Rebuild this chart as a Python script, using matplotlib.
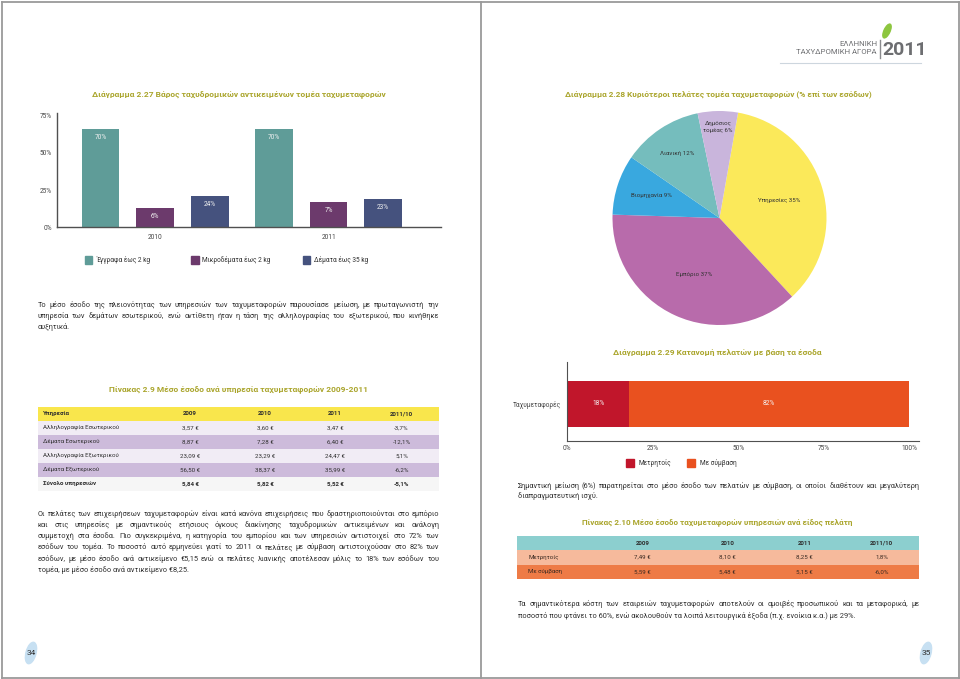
import numpy as np
import matplotlib
matplotlib.use('Agg')
import matplotlib.pyplot as plt
from matplotlib.patches import Rectangle, Ellipse

W, H = 960, 679
plt.rcParams['font.family'] = ['Liberation Sans Narrow', 'Roboto', 'DejaVu Sans']

# --- data ---
years = ['2010', '2011']
weight_cats = ['Έγγραφα έως 2 kg', 'Μικροδέματα έως 2 kg', 'Δέματα έως 35 kg']
weight_2010 = [66.3, 12.8, 21.2]   # bar heights as drawn in the source
weight_2011 = [66.3, 16.8, 19.0]
weight_lbl_2010 = ['70%', '6%', '24%']
weight_lbl_2011 = ['70%', '7%', '23%']

client_cats = ['Υπηρεσίες 35%', 'Εμπόριο 37%', 'Βιομηχανία 9%', 'Λιανική 12%', 'Δημόσιος\nτομέας 6%']
client_share = [35, 37, 9, 12, 6]

pay_cat = 'Ταχυμεταφορές'
pay_names = ['Μετρητοίς', 'Με σύμβαση']
pay_share = [18, 82]

t29_cols = ['Υπηρεσία', '2009', '2010', '2011', '2011/10']
t29_rows = ['Αλληλογραφία Εσωτερικού', 'Δέματα Εσωτερικού', 'Αλληλογραφία Εξωτερικού',
            'Δέματα Εξωτερικού', 'Σύνολο υπηρεσιών']
t29_2009 = ['3,57 €', '8,87 €', '23,09 €', '56,50 €', '5,84 €']
t29_2010 = ['3,60 €', '7,28 €', '23,29 €', '38,37 €', '5,82 €']
t29_2011 = ['3,47 €', '6,40 €', '24,47 €', '35,99 €', '5,52 €']
t29_chg = ['-3,7%', '-12,1%', '5,1%', '-6,2%', '-5,1%']

t210_cols = ['', '2009', '2010', '2011', '2011/10']
t210_rows = ['Μετρητοίς', 'Με σύμβαση']
t210_2009 = ['7,49 €', '5,59 €']
t210_2010 = ['8,10 €', '5,48 €']
t210_2011 = ['8,25 €', '5,15 €']
t210_chg = ['1,8%', '-6,0%']

para1 = ['Το μέσο έσοδο της πλειονότητας των υπηρεσιών των ταχυμεταφορών παρουσίασε μείωση, με πρωταγωνιστή την',
         'υπηρεσία των δεμάτων εσωτερικού, ενώ αντίθετη ήταν η τάση της αλληλογραφίας του εξωτερικού, που κινήθηκε',
         'αυξητικά.']
para2 = ['Οι πελάτες των επιχειρήσεων ταχυμεταφορών είναι κατά κανόνα επιχειρήσεις που δραστηριοποιούνται στο εμπόριο',
         'και στις υπηρεσίες με σημαντικούς ετήσιους όγκους διακίνησης ταχυδρομικών αντικειμένων και ανάλογη',
         'συμμετοχή στα έσοδα. Πιο συγκεκριμένα, η κατηγορία του εμπορίου και των υπηρεσιών αντιστοιχεί στο 72% των',
         'εσόδων του τομέα. Το ποσοστό αυτό ερμηνεύει γιατί το 2011 οι πελάτες με σύμβαση αντιστοιχούσαν στο 82% των',
         'εσόδων, με μέσο έσοδο ανά αντικείμενο €5,15  ενώ οι πελάτες λιανικής αποτέλεσαν μόλις το 18% των εσόδων του',
         'τομέα, με μέσο έσοδο ανά αντικείμενο €8,25.']
para3 = ['Σημαντική μείωση (6%) παρατηρείται στο μέσο έσοδο των πελατών με σύμβαση, οι οποίοι διαθέτουν και μεγαλύτερη',
         'διαπραγματευτική ισχύ.']
para4 = ['Τα σημαντικότερα κόστη των εταιρειών ταχυμεταφορών αποτελούν οι αμοιβές προσωπικού και τα μεταφορικά, με',
         'ποσοστό που φτάνει το 60%, ενώ ακολουθούν τα λοιπά λειτουργικά έξοδα (π.χ. ενοίκια κ.α.) με 29%.']

TITLE = '#aaa52c'
TXT = '#2f2f2f'

fig = plt.figure(figsize=(W / 100, H / 100), dpi=100)
renderer = fig.canvas.get_renderer()

bg = fig.add_axes([0, 0, 1, 1])
bg.set_xlim(0, W)
bg.set_ylim(H, 0)
bg.axis('off')


def px_axes(x0, y0, x1, y1):
    return fig.add_axes([x0 / W, 1 - y1 / H, (x1 - x0) / W, (y1 - y0) / H])


def width_of(t):
    return t.get_window_extent(renderer).width


def fit_size(s, width, weight='normal'):
    t = bg.text(0, 0, s, fontsize=10, weight=weight)
    size = 10 * width / width_of(t)
    t.remove()
    return size


BODY = fit_size(para2[0], 398)
SMALL = fit_size('Μικροδέματα έως 2 kg', 68)
TAB = fit_size('Αλληλογραφία Εσωτερικού', 77)
PIE = fit_size('Υπηρεσίες 35%', 42)


def title(xc, y, s, width):
    t = bg.text(xc, y, s, fontsize=10, weight='bold', color=TITLE, ha='center', va='center')
    t.set_fontsize(10 * width / width_of(t))


def justify(lines, x0, x1, y0, dy, last_full=False):
    for i, line in enumerate(lines):
        y = y0 + i * dy + 2.3
        words = line.split()
        if (i == len(lines) - 1 and not last_full) or len(words) < 2:
            bg.text(x0, y, line, fontsize=BODY, color=TXT, va='baseline')
            continue
        objs = [bg.text(0, y, w, fontsize=BODY, color=TXT, va='baseline') for w in words]
        ws = [width_of(o) for o in objs]
        gap = (x1 - x0 - sum(ws)) / (len(words) - 1)
        x = x0
        for o, w in zip(objs, ws):
            o.set_x(x)
            x += w + gap


# page frame
for xs, ys in [([1.5, 958.5], [1.5, 1.5]), ([1.5, 958.5], [677.5, 677.5]),
               ([1.5, 1.5], [1.5, 677.5]), ([958.5, 958.5], [1.5, 677.5]),
               ([481, 481], [1.5, 677.5])]:
    bg.plot(xs, ys, color='#9a9a9a', lw=1.3)

# header logo
bg.plot([780, 921], [62.7, 62.7], color='#cdd6de', lw=0.8)
bg.plot([880, 880], [40, 58], color='#8a8b8e', lw=1)
bg.text(877, 44, 'ΕΛΛΗΝΙΚΗ', fontsize=5.6, color='#6d6e71', ha='right', va='center')
bg.text(877, 52, 'ΤΑΧΥΔΡΟΜΙΚΗ ΑΓΟΡΑ', fontsize=5.6, color='#6d6e71', ha='right', va='center')
bg.text(882, 50, '2011', fontsize=14, weight='bold', color='#6d6e71', ha='left', va='center')
bg.add_patch(Ellipse((887, 31), 6, 15, angle=25, color='#8dc63f'))

# page numbers
for x, s in [(31, '34'), (926, '35')]:
    bg.add_patch(Ellipse((x, 653), 10, 22, angle=15, color='#c7e0f2'))
    bg.text(x, 653, s, fontsize=6, color=TXT, ha='center', va='center')

# --- Διάγραμμα 2.27 ---
title(239, 95, 'Διάγραμμα 2.27 Βάρος ταχυδρομικών αντικειμένων τομέα ταχυμεταφορών', 294)
ax = px_axes(57, 113, 441, 227.3)
bar_colors = ['#5f9c98', '#6c3a6c', '#45527e']
offsets = [-0.315, 0, 0.315]
for g, (vals, lbls) in enumerate([(weight_2010, weight_lbl_2010), (weight_2011, weight_lbl_2011)]):
    for k in range(3):
        ax.bar(g + offsets[k], vals[k], width=0.217, color=bar_colors[k])
        ax.annotate(lbls[k], (g + offsets[k], vals[k]), xytext=(0, -6.2), textcoords='offset points',
                    ha='center', va='center', fontsize=SMALL, color='#f2f2f2')
ax.set_xlim(-0.565, 1.648)
ax.set_ylim(0, 76.8)
ax.set_yticks([0, 25, 50, 75])
ax.set_yticklabels(['0%', '25%', '50%', '75%'])
ax.set_xticks([0, 1])
ax.set_xticklabels(years)
ax.tick_params(axis='y', length=0, pad=3.6, labelsize=SMALL, labelcolor='#444')
ax.tick_params(axis='x', length=0, pad=5, labelsize=SMALL, labelcolor='#444')
for s in ['top', 'right']:
    ax.spines[s].set_visible(False)
for s in ['left', 'bottom']:
    ax.spines[s].set_color('#505050')
    ax.spines[s].set_linewidth(1)
ax.patch.set_alpha(0)

for x, c, lbl in zip([84.5, 191, 302.5], bar_colors, weight_cats):
    bg.add_patch(Rectangle((x, 256), 7.5, 7.5, color=c))
    bg.text(x + 11.5, 260, lbl, fontsize=SMALL, color=TXT, va='center')

justify(para1, 37.7, 439.3, 305, 10.8)

# --- Διάγραμμα 2.28 ---
title(718, 95, 'Διάγραμμα 2.28 Κυριότεροι πελάτες τομέα ταχυμεταφορών (% επί των εσόδων)', 310)
pax = px_axes(612.5, 111, 826.5, 325)
pie_colors = ['#fbe95a', '#b86bab', '#39a8df', '#75bdbd', '#c9b5dc']
wedges, _ = pax.pie(client_share, colors=pie_colors, startangle=80, counterclock=False,
                    wedgeprops=dict(linewidth=0))
label_r = [0.58, 0.58, 0.67, 0.72, 0.85]
for w, lbl, r in zip(wedges, client_cats, label_r):
    a = np.deg2rad((w.theta1 + w.theta2) / 2)
    pax.text(r * np.cos(a), r * np.sin(a), lbl, ha='center', va='center',
             fontsize=PIE, color='#333', linespacing=1.3)
pax.set_xlim(-1, 1)
pax.set_ylim(-1, 1)

# --- Πίνακας 2.9 ---
title(238.3, 390, 'Πίνακας 2.9 Μέσο έσοδο ανά υπηρεσία ταχυμεταφορών 2009-2011', 260)
tax = px_axes(37.7, 406.7, 439.3, 491)
tax.set_xlim(37.7, 439.3)
tax.set_ylim(6, 0)
tax.axis('off')
row_cols = ['#f9e64c', '#f1ecf5', '#cdbbdb', '#f1ecf5', '#cdbbdb', '#f6f6f6']
for i, c in enumerate(row_cols):
    tax.axhspan(i, i + 1, color=c, lw=0)
col_x = [42.7, 190, 265, 335, 401.7]
for j, h in enumerate(t29_cols):
    tax.text(col_x[j], 0.5, h, fontsize=TAB, weight='bold', color=TXT,
             ha='left' if j == 0 else 'center', va='center')
for i, row in enumerate(zip(t29_rows, t29_2009, t29_2010, t29_2011, t29_chg)):
    wt = 'bold' if i == len(t29_rows) - 1 else 'normal'
    for j, v in enumerate(row):
        tax.text(col_x[j], i + 1.5, v, fontsize=TAB, weight=wt, color=TXT,
                 ha='left' if j == 0 else 'center', va='center')

justify(para2, 37.7, 439.3, 513.5, 11.2)

# --- Διάγραμμα 2.29 ---
title(717.5, 352.7, 'Διάγραμμα 2.29 Κατανομή πελατών με βάση τα έσοδα', 208)
hax = px_axes(567.3, 361.7, 919.3, 440.7)
pay_colors = ['#c1162b', '#e9511f']
left = 0
for v, c in zip(pay_share, pay_colors):
    hax.barh(0.465, v, left=left, height=0.59, color=c)
    hax.text(left + v / 2, 0.465, f'{v}%', ha='center', va='center', fontsize=SMALL, color='#f5f5f5')
    left += v
hax.set_xlim(0, 102.9)
hax.set_ylim(0, 1)
hax.set_xticks([0, 25, 50, 75, 100])
hax.set_xticklabels(['0%', '25%', '50%', '75%', '100%'])
hax.set_yticks([0.465])
hax.set_yticklabels([pay_cat])
hax.tick_params(axis='x', length=0, pad=3, labelsize=SMALL, labelcolor='#444')
hax.tick_params(axis='y', length=0, pad=4.3, labelsize=SMALL, labelcolor='#444')
for s in ['top', 'right']:
    hax.spines[s].set_visible(False)
for s in ['left', 'bottom']:
    hax.spines[s].set_color('#505050')
hax.patch.set_alpha(0)

for x, c, lbl in zip([626, 687], pay_colors, pay_names):
    bg.add_patch(Rectangle((x, 458.5), 8, 8, color=c))
    bg.text(x + 12.5, 462.5, lbl, fontsize=SMALL, color=TXT, va='center')

justify(para3, 517.7, 919.3, 486, 9.8)

# --- Πίνακας 2.10 ---
title(717.5, 523.3, 'Πίνακας 2.10 Μέσο έσοδο ταχυμεταφορών υπηρεσιών ανά είδος πελάτη', 275)
t2 = px_axes(516.7, 536, 919.3, 579)
t2.set_xlim(516.7, 919.3)
t2.set_ylim(3, 0)
t2.axis('off')
for i, c in enumerate(['#8ccfcf', '#f6ba9c', '#ee7b46']):
    t2.axhspan(i, i + 1, color=c, lw=0)
col_x2 = [528.3, 642.3, 727.3, 804.3, 881.7]
for j, h in enumerate(t210_cols):
    t2.text(col_x2[j], 0.5, h, fontsize=TAB, weight='bold', color=TXT, ha='center', va='center')
for i, row in enumerate(zip(t210_rows, t210_2009, t210_2010, t210_2011, t210_chg)):
    for j, v in enumerate(row):
        t2.text(col_x2[j], i + 1.5, v, fontsize=TAB, color='#3a2a22',
                ha='left' if j == 0 else 'center', va='center')

justify(para4, 517.7, 919.3, 603.3, 12.4)

fig.savefig('out.png', dpi=100)
